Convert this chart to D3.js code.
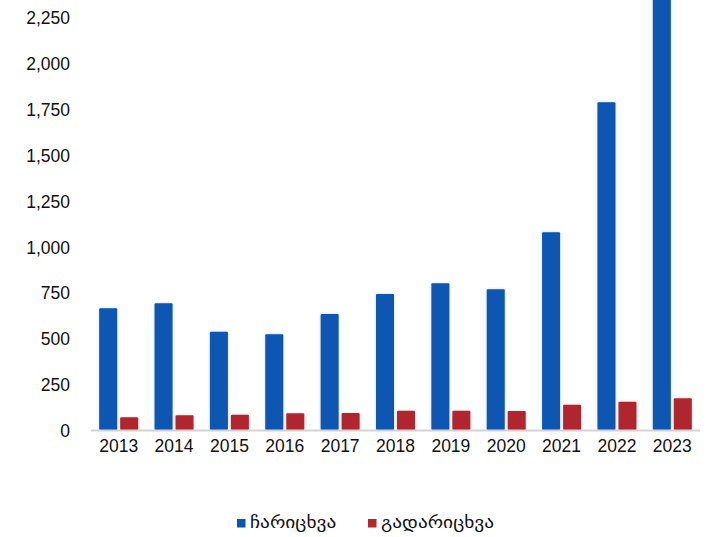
<!DOCTYPE html>
<html><head><meta charset="utf-8">
<script src="https://cdn.jsdelivr.net/npm/d3@7"></script>
<style>
html,body{margin:0;padding:0;background:#fff;}
svg{display:block;}
</style></head>
<body>
<svg id="chart" width="710" height="537"></svg>
<script>
const years = ["2013","2014","2015","2016","2017","2018","2019","2020","2021","2022","2023"];
const inflow = [663, 690, 535, 521, 632, 741, 799, 766, 1077, 1785, 2450];
const outflow = [69, 80, 83, 91, 93, 105, 105, 103, 138, 154, 173];
const seriesNames = ["ჩარიცხვა", "გადარიცხვა"];
const seriesColors = ["#0757b1", "#b1282e"];
const yTicks = [0, 250, 500, 750, 1000, 1250, 1500, 1750, 2000, 2250];

const svg = d3.select("#chart");
const x0 = 91, x1 = 700, yBase = 430, yTop = 16.9;

const defs = svg.append("defs");
const f = defs.append("filter").attr("id","sh").attr("x","-50%").attr("y","-10%").attr("width","200%").attr("height","120%");
f.append("feGaussianBlur").attr("in","SourceAlpha").attr("stdDeviation",1.8).attr("result","b");
f.append("feFlood").attr("flood-color","#000").attr("flood-opacity",0.18).attr("result","c");
f.append("feComposite").attr("in","c").attr("in2","b").attr("operator","in").attr("result","s");
const m = f.append("feMerge");
m.append("feMergeNode").attr("in","s");
m.append("feMergeNode").attr("in","SourceGraphic");

const x = d3.scaleBand().domain(years).range([x0, x1]).paddingInner(0).paddingOuter(0);
const y = d3.scaleLinear().domain([0, 2250]).range([yBase, yTop]);

const font = "'Liberation Sans', Arial, sans-serif";

const yAxis = d3.axisLeft(y).tickValues(yTicks).tickFormat(d3.format(",")).tickSize(0).tickPadding(0);
const yg = svg.append("g").attr("transform","translate(70,1)").call(yAxis);
yg.select(".domain").remove();
yg.selectAll("text").attr("font-family",font).attr("font-size","17.5px").attr("fill","#111");

const bw = 18, gap = 3;
const grp = svg.append("g");
years.forEach((yr,i)=>{
  const cx = x(yr) + x.bandwidth()/2;
  [inflow[i], outflow[i]].forEach((v,k)=>{
    const bx = k===0 ? cx - gap/2 - bw : cx + gap/2;
    grp.append("rect")
      .attr("x", bx).attr("y", y(v)).attr("width", bw).attr("height", yBase - y(v))
      .attr("rx",1).attr("fill", seriesColors[k]).attr("filter","url(#sh)");
  });
});

const xAxis = d3.axisBottom(x).tickSize(0).tickPadding(0);
const xg = svg.append("g").attr("transform",`translate(0,${yBase})`).call(xAxis);
xg.select(".domain").remove();
xg.selectAll("text").attr("font-family",font).attr("font-size","17.5px").attr("fill","#111").attr("dy","1.27em");
svg.append("line").attr("x1",x0).attr("x2",x1).attr("y1",yBase+0.5).attr("y2",yBase+0.5)
  .attr("stroke","#d4d4d4").attr("stroke-width",2);

const legX = [237, 368];
const lg = svg.append("g");
seriesNames.forEach((n,k)=>{
  lg.append("rect").attr("x",legX[k]).attr("y",519).attr("width",8.5).attr("height",8.5).attr("fill",seriesColors[k]);
  lg.append("text").attr("transform",`translate(${legX[k]+13},528) scale(1.21,1)`).text(n)
    .attr("font-family","'DejaVu Sans', 'Noto Sans', sans-serif").attr("font-size","16px")
    .attr("fill","#111");
});
</script>
</body></html>
